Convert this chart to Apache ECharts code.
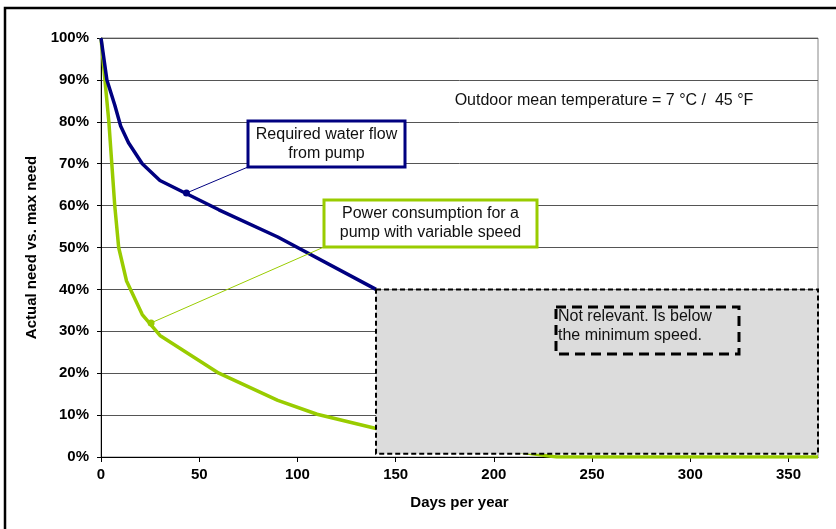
<!DOCTYPE html>
<html>
<head>
<meta charset="utf-8">
<script src="https://cdn.jsdelivr.net/npm/echarts@6/dist/echarts.min.js"></script>
<style>
html, body { margin: 0; padding: 0; background: #fff; }
#main { width: 836px; height: 529px; }
</style>
</head>
<body>
<div id="main"></div>
<script>
// curve data (days per year, % of max need)
var waterDays = [0, 3, 7, 10, 14, 21, 30, 60, 90, 140];
var waterNeed = [100, 90, 84, 79, 75, 70, 66, 59, 52.5, 40];
var powerDays = [0, 2, 4, 5.5, 7, 9, 13, 21, 30, 60, 90, 110, 140, 185, 232, 365];
var powerNeed = [100, 90, 80, 70, 60, 50, 42, 34, 29, 20, 13.5, 10.2, 6.8, 3, 0, 0];

// callout anchor points and the "not relevant" region (data units)
var waterDot = [43.5, 63];
var powerDot = [25.5, 32];
var regionDays = [140, 365];
var regionNeed = [0.8, 40];

var FONT = 'Liberation Sans, Arial, sans-serif';
var NAVY = '#000080';
var GREEN = '#99cc00';

function pairs(xs, ys) {
	return xs.map(function(x, i) { return [x, ys[i]]; });
}

var chart = echarts.init(document.getElementById('main'));

var option = {
	animation: false,
	textStyle: { fontFamily: FONT },
	grid: {
		left: 101,
		right: 18,
		top: 38,
		bottom: 72,
		show: true,
		borderColor: '#888',
		borderWidth: 1
	},
	xAxis: {
		type: 'value',
		min: 0,
		max: 365,
		interval: 50,
		name: 'Days per year',
		nameLocation: 'middle',
		nameGap: 38,
		nameTextStyle: { fontWeight: 'bold', fontSize: 15, color: '#000', fontFamily: FONT },
		axisLine: { lineStyle: { color: '#000', width: 1 } },
		axisTick: { show: true, length: 5, lineStyle: { color: '#000' } },
		axisLabel: { showMaxLabel: false, fontWeight: 'bold', fontSize: 15, color: '#000', margin: 10, fontFamily: FONT },
		splitLine: { show: false }
	},
	yAxis: {
		type: 'value',
		min: 0,
		max: 100,
		interval: 10,
		name: 'Actual need vs. max need',
		nameLocation: 'middle',
		nameGap: 62,
		nameTextStyle: { fontWeight: 'bold', fontSize: 15, color: '#000', fontFamily: FONT },
		axisLine: { show: true, lineStyle: { color: '#000', width: 1 } },
		axisTick: { show: true, length: 4, lineStyle: { color: '#000' } },
		axisLabel: { formatter: '{value}%', fontWeight: 'bold', fontSize: 15, color: '#000', margin: 12, fontFamily: FONT },
		splitLine: { lineStyle: { color: '#555', width: 1 } }
	},
	series: [{
		name: 'Power consumption',
		type: 'line',
		symbol: 'none',
		lineStyle: { color: GREEN, width: 3.5 },
		data: pairs(powerDays, powerNeed)
	}, {
		name: 'Required water flow',
		type: 'line',
		symbol: 'none',
		lineStyle: { color: NAVY, width: 3.5 },
		data: pairs(waterDays, waterNeed)
	}]
};

chart.setOption(option);

function px(p) {
	return chart.convertToPixel({ gridIndex: 0 }, p);
}

function label(text, x, y, align) {
	return {
		type: 'text',
		z: 120,
		silent: true,
		style: {
			text: text,
			x: x,
			y: y,
			font: '16px ' + FONT,
			fill: '#111',
			textAlign: align, align: align,
			textVerticalAlign: 'top', verticalAlign: 'top',
			lineHeight: 19
		}
	};
}

var r0 = px([regionDays[0], regionNeed[1]]);
var r1 = px([regionDays[1], regionNeed[0]]);
var wd = px(waterDot);
var pd = px(powerDot);

var blueBox = { x: 248, y: 121, w: 157, h: 46 };
var greenBox = { x: 324, y: 200, w: 213, h: 47 };

chart.setOption({
	graphic: [
		// outer frame
		{ type: 'rect', z: 120, silent: true,
			shape: { x: 5, y: 8, width: 860, height: 560 },
			style: { fill: 'none', stroke: '#000', lineWidth: 2.5 } },
		// shaded region
		{ type: 'rect', z: 100, silent: true,
			shape: { x: r0[0], y: r0[1], width: r1[0] - r0[0], height: r1[1] - r0[1] },
			style: { fill: '#dcdcdc', stroke: '#000', lineWidth: 2, lineDash: [5, 3] } },
		{ type: 'rect', z: 110, silent: true,
			shape: { x: 556, y: 307, width: 183, height: 47 },
			style: { fill: 'none', stroke: '#000', lineWidth: 3, lineDash: [10, 6] } },
		label('Not relevant. Is below\nthe minimum speed.', 558, 307, 'left'),
		// water flow callout
		{ type: 'line', z: 105, silent: true,
			shape: { x1: wd[0], y1: wd[1], x2: blueBox.x, y2: blueBox.y + blueBox.h },
			style: { stroke: NAVY, lineWidth: 1 } },
		{ type: 'circle', z: 106, silent: true,
			shape: { cx: wd[0], cy: wd[1], r: 3.5 },
			style: { fill: NAVY } },
		{ type: 'rect', z: 110, silent: true,
			shape: { x: blueBox.x, y: blueBox.y, width: blueBox.w, height: blueBox.h },
			style: { fill: '#fff', stroke: NAVY, lineWidth: 3 } },
		label('Required water flow\nfrom pump', blueBox.x + blueBox.w / 2, blueBox.y + 4, 'center'),
		// power callout
		{ type: 'line', z: 105, silent: true,
			shape: { x1: pd[0], y1: pd[1], x2: greenBox.x, y2: greenBox.y + greenBox.h },
			style: { stroke: GREEN, lineWidth: 1 } },
		{ type: 'circle', z: 106, silent: true,
			shape: { cx: pd[0], cy: pd[1], r: 3.5 },
			style: { fill: GREEN } },
		{ type: 'rect', z: 110, silent: true,
			shape: { x: greenBox.x, y: greenBox.y, width: greenBox.w, height: greenBox.h },
			style: { fill: '#fff', stroke: GREEN, lineWidth: 3 } },
		label('Power consumption for a\npump with variable speed', greenBox.x + greenBox.w / 2, greenBox.y + 4, 'center'),
		// temperature note
		label('Outdoor mean temperature = 7 \u00B0C /  45 \u00B0F', 604, 91, 'center')
	]
});

window.addEventListener('resize', function() {
	chart.resize();
});
</script>
</body>
</html>
